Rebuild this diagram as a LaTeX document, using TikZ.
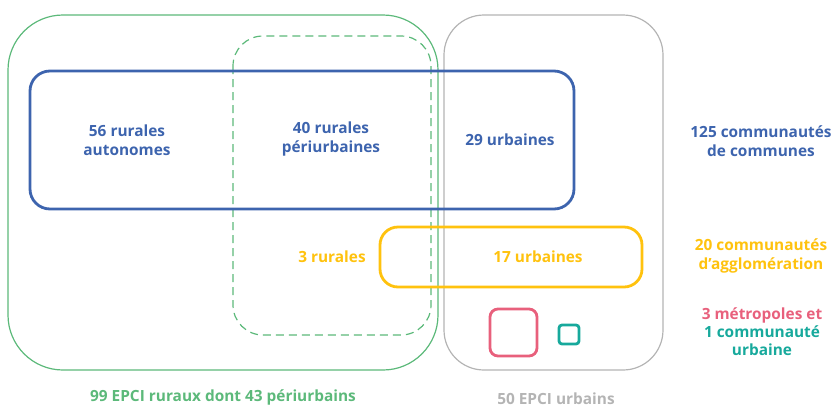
\documentclass[tikz,border=0pt]{standalone}
\usepackage{fontspec}
\setmainfont{Open Sans}
\usetikzlibrary{positioning}
\definecolor{ruralgreen}{HTML}{5CB97A}
\definecolor{ccblue}{HTML}{3D64AE}
\definecolor{urbangray}{HTML}{B4B4B4}
\definecolor{agglyellow}{HTML}{FFC20E}
\definecolor{metropink}{HTML}{E8607C}
\definecolor{cuteal}{HTML}{17A99C}

\begin{document}
\begin{tikzpicture}[
    x=1pt, y=-1pt,
    font=\fontsize{15.4}{18.5}\selectfont\bfseries,
    group/.style={line width=1.2pt,rounded corners=#1},
    kind/.style={line width=2.8pt,rounded corners=#1},
    count/.style={align=center,inner sep=0pt}
]
\path[use as bounding box] (0,0) rectangle (838,408);

% EPCI groups
\draw[group=55pt,ruralgreen] (8,15) rectangle (438,370);
\draw[group=30pt,ruralgreen,dash pattern=on 8pt off 5pt] (233,36) rectangle (431,335);
\draw[group=40pt,urbangray] (444,15) rectangle (663,370);
% legal categories
\draw[kind=20pt,ccblue] (30,71) rectangle (574,209);
\draw[kind=18pt,agglyellow] (380,227) rectangle (642,287);
\draw[kind=8pt,metropink] (490,309) rectangle (537,356);
\draw[kind=3pt,cuteal] (559,325) rectangle (579,344);

\node[count,ccblue] (ccauto) at (127,140) {56 rurales\\autonomes};
\node[count,ccblue] (ccperi) at (331,139) {40 rurales\\périurbaines};
\node[count,ccblue] (ccurb) at (510,140) {29 urbaines};
\node[count,agglyellow] (carur) at (332,257) {3 rurales};
\node[count,agglyellow] (caurb) at (538,257) {17 urbaines};

\node[count,ccblue] (cclabel) at (761,141) {125 communautés\\de communes};
\node[count,agglyellow] (calabel) at (761,256) {20 communautés\\d’agglomération};
\node[count,metropink] (metrolabel) at (762,315) {3 métropoles et};
\node[count,cuteal,below=2.5pt of metrolabel] (culabel) {1 communauté\\urbaine};

\node[count,ruralgreen] (rurallabel) at (223,397) {99 EPCI ruraux dont 43 périurbains};
\node[count,urbangray] (urbanlabel) at (556,399) {50 EPCI urbains};
\end{tikzpicture}
\end{document}
